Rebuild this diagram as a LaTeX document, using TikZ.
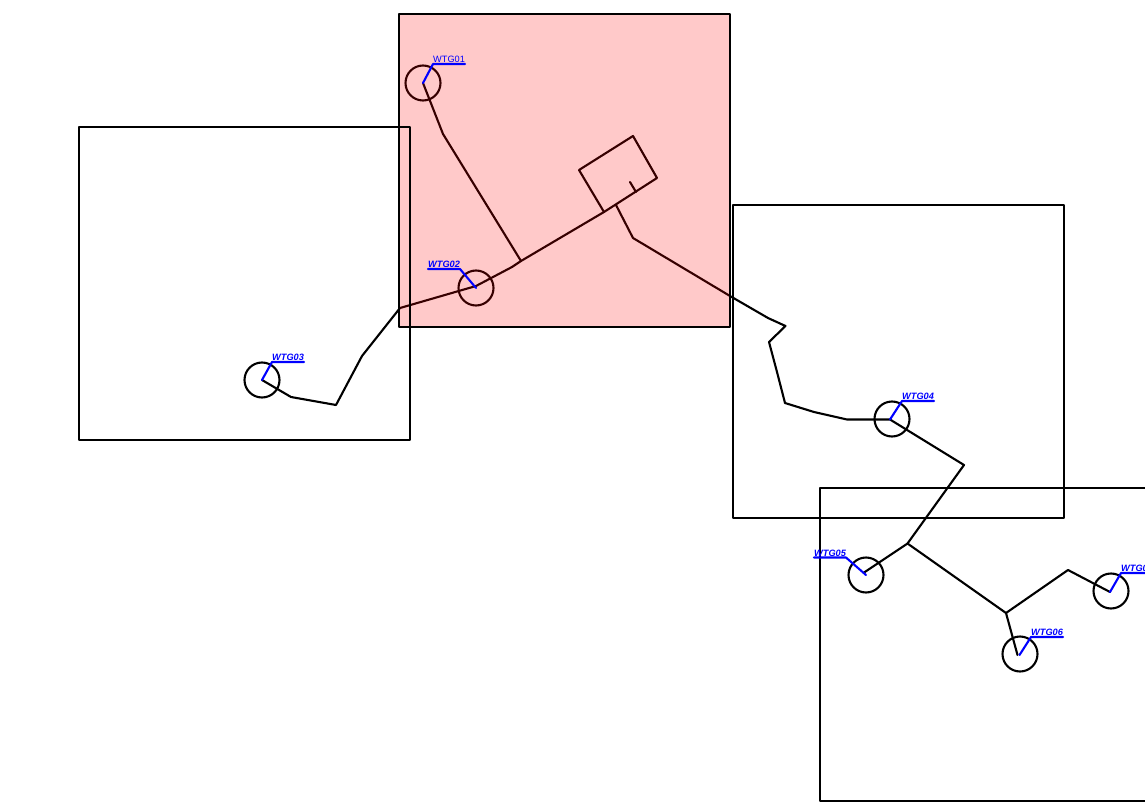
\documentclass[tikz,border=0pt]{standalone}
\usepackage{fontspec}
\setmainfont{Liberation Sans}
\begin{document}
\begin{tikzpicture}[x=1pt,y=-1pt,line join=round,line cap=round,
  areabox/.style={draw=black,line width=2.8pt,outer sep=0pt,inner sep=0pt,minimum width=331pt,minimum height=313pt,anchor=north west},
  cable/.style={draw=black,line width=2.1pt},
  turbine/.style={circle,draw=black,line width=2.1pt,minimum size=35pt,inner sep=0pt,outer sep=0pt},
  flag/.style={draw=blue,line width=2.1pt},
  tag/.style={text=blue,font=\fontsize{9.2}{9}\selectfont\bfseries\itshape,inner sep=0pt,anchor=base west},
  tagup/.style={text=blue,font=\fontsize{9.2}{9}\selectfont,inner sep=0pt,anchor=base west}]
\useasboundingbox (0,0) rectangle (1145,810);
\clip (0,0) rectangle (1145,810);
% turbines
\node[turbine] (t1) at (423,83) {};
\node[turbine] (t2) at (476,288) {};
\node[turbine] (t3) at (262,380) {};
\node[turbine] (t4) at (892,419) {};
\node[turbine] (t5) at (866,575) {};
\node[turbine] (t6) at (1020,654) {};
\node[turbine] (t7) at (1111,591) {};
% cable ends inside the turbine circles
\coordinate (e4) at (890,419.5);
\coordinate (e5) at (864,572.5);
\coordinate (e6) at (1017.5,655);
\coordinate (e7) at (1110,592);
% junctions
\coordinate (j1) at (521,261);
\coordinate (j2) at (907.5,543.5);
\coordinate (j3) at (1006,613);
\coordinate (s1) at (604,212);
\coordinate (s2) at (657,178);
\coordinate (s3) at (633,136);
\coordinate (s4) at (579,170);
\coordinate (s5) at (636,192);
\coordinate (s6) at (630,182);
\coordinate (s7) at (616,205);
% cables
\draw[cable] (t1.center) -- (443,134) -- (j1);
\draw[cable] (t3.center) -- (291,397) -- (336,405) -- (362,356) -- (400,308) -- (476,286) -- (512,267) -- (j1) -- (s1);
\draw[cable] (s1) -- (s2) -- (s3) -- (s4) -- (s1);
\draw[cable] (s5) -- (s6);
\draw[cable] (s7) -- (633,238) -- (730,296) -- (768,318) -- (785.5,326) -- (769,342) -- (777,372) -- (785,403) -- (814,412) -- (847,419.5) -- (e4) -- (964,465) -- (j2) -- (e5);
\draw[cable] (j2) -- (j3) -- (1068,570) -- (e7);
\draw[cable] (j3) -- (e6);
% areas
\node[areabox,fill=red,fill opacity=.21,draw opacity=1] (a1) at (399,14) {};
\node[areabox] (a3) at (79,127) {};
\node[areabox] (a4) at (733,205) {};
\node[areabox] (a5) at (820,488) {};
% labels
\node[tagup] (l1) at (433,62.5) {WTG01};
\node[tag] (l2) at (428,267.5) {WTG02};
\node[tag] (l3) at (272,360.5) {WTG03};
\node[tag] (l4) at (902,399.5) {WTG04};
\node[tag] (l5) at (814,556.5) {WTG05};
\node[tag] (l6) at (1031,635.5) {WTG06};
\node[tag] (l7) at (1121,571.5) {WTG07};
\draw[flag] (t1.center) -- (433,64) -- (465,64);
\draw[flag] (t2.center) -- (460,269) -- (428,269);
\draw[flag] (t3.center) -- (272,362) -- (304,362);
\draw[flag] (e4) -- (902,401) -- (934,401);
\draw[flag] (t5.center) -- (846,557.5) -- (814,557.5);
\draw[flag] (1019.5,655) -- (1031,637) -- (1063,637);
\draw[flag] (e7) -- (1121,573) -- (1153,573);
\end{tikzpicture}
\end{document}
